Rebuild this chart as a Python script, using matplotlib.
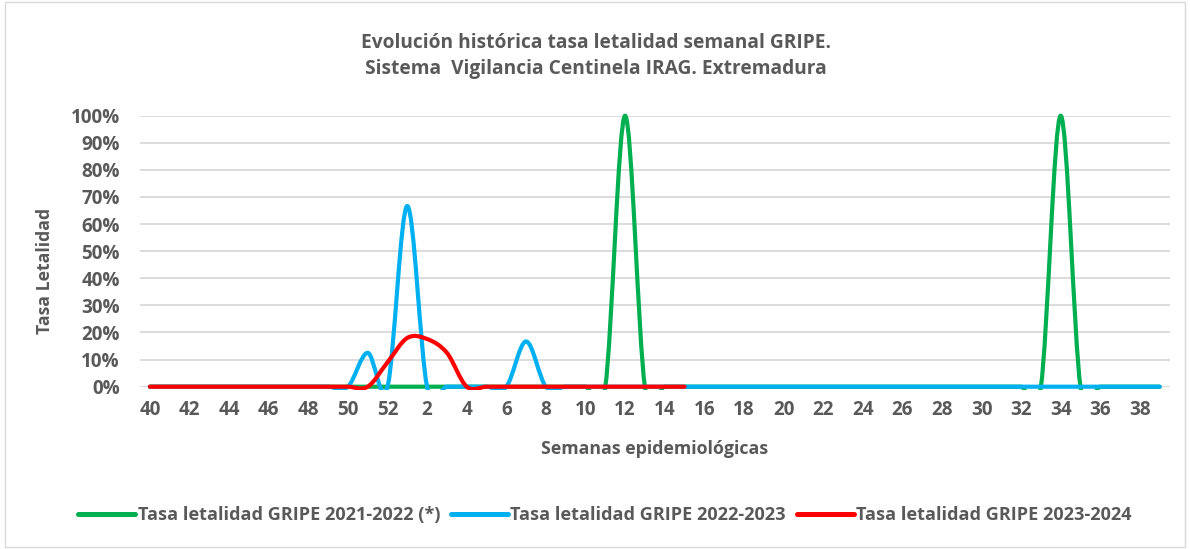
import numpy as np
import matplotlib.pyplot as plt
from matplotlib.path import Path
from matplotlib.patches import PathPatch, Rectangle
from matplotlib.lines import Line2D

plt.rcParams['font.family'] = ['Open Sans', 'DejaVu Sans']

# epidemiological weeks 40..52 then 1..39
weeks = list(range(40, 53)) + list(range(1, 40))
tick_labels = [str(w) for w in weeks]

# lethality rates (fraction)
gripe_2122 = [0.0] * 52
gripe_2122[weeks.index(12)] = 1.0
gripe_2122[weeks.index(34)] = 1.0

gripe_2223 = [0.0] * 52
gripe_2223[weeks.index(51)] = 0.125
gripe_2223[weeks.index(1)] = 0.667
gripe_2223[weeks.index(7)] = 0.167

gripe_2324 = [0.0] * 28  # weeks 40 .. 15
gripe_2324[weeks.index(52)] = 0.09
gripe_2324[weeks.index(1)] = 0.18
gripe_2324[weeks.index(2)] = 0.176
gripe_2324[weeks.index(3)] = 0.125

series = [
    ('Tasa letalidad GRIPE 2021-2022 (*)', gripe_2122, '#00b050'),
    ('Tasa letalidad GRIPE 2022-2023', gripe_2223, '#00b0f0'),
    ('Tasa letalidad GRIPE 2023-2024', gripe_2324, '#ff0000'),
]

grey = '#595959'
W, H = 1190, 549
fig = plt.figure(figsize=(W / 100, H / 100), dpi=100)

# chart border
fig.patches.append(Rectangle((5 / W, 2 / H), 1 - 10 / W, 1 - 4 / H, transform=fig.transFigure,
                             fill=False, edgecolor='#d9d9d9', linewidth=1))

ax = fig.add_axes([140 / W, 1 - 386.7 / H, 1029.6 / W, (386.7 - 115.7) / H])
ax.set_xlim(-0.5, 51.5)
ax.set_ylim(0, 1.0)
ax.set_yticks(np.arange(0, 1.01, 0.1))
ax.set_yticklabels([f'{int(round(v * 100))}%' for v in np.arange(0, 1.01, 0.1)])
ax.set_xticks(range(0, 52, 2))
ax.set_xticklabels(tick_labels[::2])
ax.grid(axis='y', color='#d9d9d9', linewidth=1.3)
ax.set_axisbelow(True)
for s in ax.spines.values():
    s.set_visible(False)
ax.tick_params(length=0, labelsize=13.6, labelcolor=grey, pad=9.5)
ax.tick_params(axis='y', pad=14.4)
for lab in ax.get_xticklabels() + ax.get_yticklabels():
    lab.set_fontweight('bold')


def smooth_path(ys):
    # Excel-like smoothed line: cubic Bezier segments through every point
    xs = np.arange(len(ys), dtype=float)
    ys = np.asarray(ys, dtype=float)
    n = len(ys)
    verts = [(xs[0], ys[0])]
    codes = [Path.MOVETO]
    for i in range(n - 1):
        p0 = np.array([xs[max(i - 1, 0)], ys[max(i - 1, 0)]])
        p1 = np.array([xs[i], ys[i]])
        p2 = np.array([xs[i + 1], ys[i + 1]])
        p3 = np.array([xs[min(i + 2, n - 1)], ys[min(i + 2, n - 1)]])
        c1 = p1 + (p2 - p0) / 6
        c2 = p2 - (p3 - p1) / 6
        verts += [tuple(c1), tuple(c2), tuple(p2)]
        codes += [Path.CURVE4] * 3
    return Path(verts, codes)


clip = Rectangle((-0.5, -0.012), 52, 1.2, transform=ax.transData, visible=False)
ax.add_patch(clip)
for name, vals, col in series:
    patch = PathPatch(smooth_path(vals), facecolor='none', edgecolor=col, linewidth=3,
                      capstyle='round', joinstyle='round', zorder=3)
    ax.add_patch(patch)
    patch.set_clip_path(clip)

fig.text(596 / W, 1 - 56 / H,
         'Evolución histórica tasa letalidad semanal GRIPE.\nSistema  Vigilancia Centinela IRAG. Extremadura',
         ha='center', va='center', fontsize=13.8, fontweight='bold', color=grey, linespacing=1.45)
fig.text(45 / W, 1 - 271 / H, 'Tasa Letalidad', rotation=90, ha='center', va='center',
         fontsize=12.7, fontweight='bold', color=grey)
fig.text(655 / W, 1 - 449 / H, 'Semanas epidemiológicas', ha='center', va='center',
         fontsize=12.8, fontweight='bold', color=grey)

handles = [Line2D([], [], color=c, linewidth=3.6, solid_capstyle='round') for _, _, c in series]
leg = fig.legend(handles, [n for n, _, _ in series], loc='center', bbox_to_anchor=(605 / W, 1 - 515 / H),
                 ncol=3, frameon=False, handlelength=3.15, handletextpad=0.12, columnspacing=0.6,
                 borderpad=0, prop={'size': 13.1, 'weight': 'bold'})
for t in leg.get_texts():
    t.set_color(grey)

fig.savefig('out.png', dpi=100)
